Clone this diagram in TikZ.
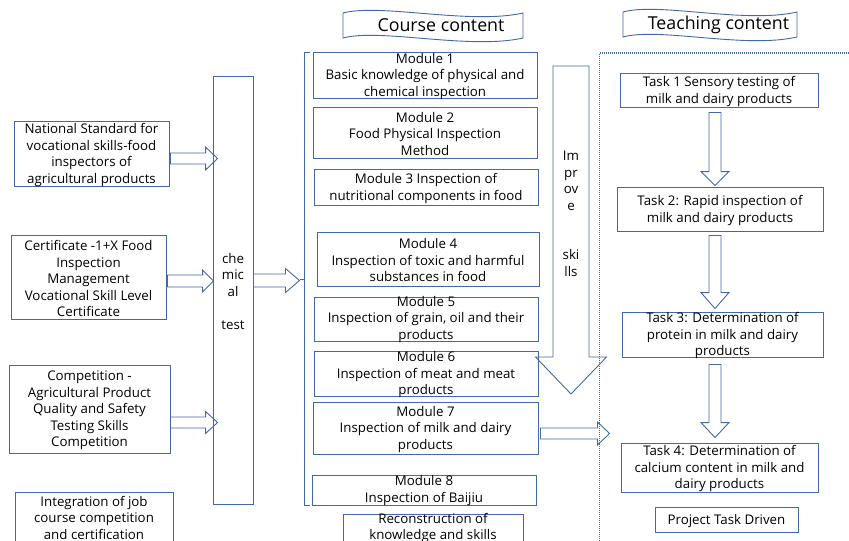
\documentclass[tikz,border=0pt]{standalone}
\usepackage{fontspec}
\setmainfont{Open Sans}
\usetikzlibrary{calc,fit}
\definecolor{bl}{HTML}{4467A5}
\newcommand\bx[5]{\node[box, fit={(#2,#3) (#4,#5)}] (#1) {};}
% horizontal block arrow: start, tip, shaft half, head half, head length
\newcommand\harr[5]{\path[arr] let \p1=(#1), \p2=(#2) in
  (\x1,\y1+#3) -- (\x2-#5,\y1+#3) -- (\x2-#5,\y1+#4) -- (\x2,\y1) -- (\x2-#5,\y1-#4) -- (\x2-#5,\y1-#3) -- (\x1,\y1-#3) -- cycle;}
% vertical (downward) block arrow
\newcommand\varr[5]{\path[arr] let \p1=(#1), \p2=(#2) in
  (\x1+#3,\y1) -- (\x1+#3,\y2+#5) -- (\x1+#4,\y2+#5) -- (\x1,\y2) -- (\x1-#4,\y2+#5) -- (\x1-#3,\y2+#5) -- (\x1-#3,\y1) -- cycle;}
\begin{document}
\begin{tikzpicture}[x=1pt,y=-1pt,
  box/.style={draw=bl, line width=0.9pt, inner sep=0pt, rectangle},
  txt/.style={align=center, font=\fontsize{13.3}{16.5}\selectfont, inner sep=0pt, text=black, yshift=-1.5pt},
  ttl/.style={font=\fontsize{17.8}{20}\selectfont, inner sep=0pt, text=black},
  arr/.style={draw=bl, line width=0.9pt, line join=miter},
  wave/.style={draw=bl, line width=0.9pt, fill=white},
]
\useasboundingbox (0,0) rectangle (849,541);
\clip (0,0) rectangle (849,541);

% ---- left column
\bx{natl}{14}{121}{169}{186}
\node[txt] (natlt) at (natl.center) {National Standard for\\vocational skills-food\\inspectors of\\agricultural products};
\bx{cert}{11}{235}{166}{319}
\node[txt] (certt) at (cert.center) {Certificate -1+X Food\\Inspection\\Management\\Vocational Skill Level\\Certificate};
\bx{comp}{9}{365}{170}{453}
\node[txt] (compt) at (comp.center) {Competition -\\Agricultural Product\\Quality and Safety\\Testing Skills\\Competition};
\bx{integ}{15}{492}{173}{560}
\node[txt, anchor=north] (integt) at ($(integ.north)+(0,3)$) {Integration of job\\course competition\\and certification};

\bx{chem}{213}{76}{253}{504}
\node[txt] (chemt) at (chem.center) {che\\mic\\al\\\mbox{}\\test};

\harr{$(natl.east)+(1,5)$}{$(chem.west)+(5,0)$}{5.5pt}{11.5pt}{12pt}
\harr{$(cert.east)+(1,4)$}{$(chem.west)+(1,0)$}{6pt}{11pt}{11pt}
\harr{$(comp.east)+(0,13.5)$}{$(chem.west)+(5,0)$}{5.5pt}{11pt}{12pt}

% ---- course content
\draw[wave] (343,13) .. controls (380,3) and (470,25) .. (523,13) -- (523,38) .. controls (470,50) and (380,28) .. (343,38) -- cycle;
\node[ttl] (cctitle) at (441,25.5) {Course content};

\coordinate (brk) at (299.5,279.5);
\draw[bl, line width=0.9pt] (310,52) -- (304,52) -- (304,505) -- (310,505);
\draw[bl, line width=0.9pt] (304,279.5) -- (brk);
\harr{$(chem.east)+(0,-9.5)$}{brk}{6.5pt}{12pt}{14pt}

\bx{m1}{313}{52}{537}{98}
\node[txt] (m1t) at (m1.center) {Module 1\\Basic knowledge of physical and\\chemical inspection};
\bx{m2}{313}{107}{537}{158}
\node[txt] (m2t) at (m2.center) {Module 2\\Food Physical Inspection\\Method};
\bx{m3}{314}{169}{538}{205}
\node[txt] (m3t) at (m3.center) {Module 3 Inspection of\\nutritional components in food};
\bx{m4}{317}{232}{539}{286}
\node[txt] (m4t) at (m4.center) {Module 4\\Inspection of toxic and harmful\\substances in food};
\bx{m5}{314}{297}{538}{341}
\node[txt] (m5t) at ($(m5.center)+(0,-1)$) {Module 5\\Inspection of grain, oil and their\\products};
\bx{m6}{314}{351}{538}{396}
\node[txt] (m6t) at (m6.center) {Module 6\\Inspection of meat and meat\\products};
\bx{m7}{313}{402}{538}{454}
\node[txt] (m7t) at (m7.center) {Module 7\\Inspection of milk and dairy\\products};
\bx{m8}{312}{475}{536}{505}
\node[txt] (m8t) at ($(m8.center)+(0,-1)$) {Module 8\\Inspection of Baijiu};
\bx{recon}{343}{514}{523}{560}
\node[txt, anchor=north] (recont) at ($(recon.north)+(0,-2)$) {Reconstruction of\\knowledge and skills};

% improve skills arrow
\coordinate (imptop) at (571,66);
\coordinate (imptip) at (571,394);
\varr{imptop}{imptip}{18pt}{35.5pt}{37pt}
\node[txt] (impt) at (571,212.5) {Im\\pr\\ov\\e\\\mbox{}\\\mbox{}\\ski\\lls};

% dotted separator
\draw[bl, line width=1.1pt, dash pattern=on 1pt off 1pt] (599.5,541) -- (599.5,53) -- (849,53);

% ---- teaching content
\draw[wave] (623,12) .. controls (659,2) and (745,24) .. (797,12) -- (797,37) .. controls (745,49) and (659,27) .. (623,37) -- cycle;
\node[ttl] (tctitle) at (718.5,24.5) {Teaching content};

\bx{t1}{620}{73}{818}{107}
\node[txt] (t1t) at (t1.center) {Task 1 Sensory testing of\\milk and dairy products};
\bx{t2}{617}{187}{823}{231}
\node[txt] (t2t) at (t2.center) {Task 2: Rapid inspection of\\milk and dairy products};
\bx{t3}{622}{312}{823}{357}
\node[txt] (t3t) at (t3.center) {Task 3: Determination of\\protein in milk and dairy\\products};
\bx{t4}{621}{443}{818}{492}
\node[txt] (t4t) at (t4.center) {Task 4: Determination of\\calcium content in milk and\\dairy products};
\bx{ptd}{655}{507}{798}{532}
\node[txt] (ptdt) at (ptd.center) {Project Task Driven};

\varr{$(t1.south)+(-4,5)$}{$(t2.north)+(0,-1)$}{6pt}{14pt}{14pt}
\varr{$(t2.south)+(-5,4)$}{$(t3.north)+(0,-3)$}{6pt}{14pt}{16pt}
\varr{$(t3.south)+(-7.5,7)$}{$(t4.north)+(0,-5)$}{6pt}{14pt}{15pt}

\harr{$(m7.east)+(2,5.5)$}{$(t4.west)+(-11,0)$}{5.5pt}{11.5pt}{12pt}
\end{tikzpicture}
\end{document}
